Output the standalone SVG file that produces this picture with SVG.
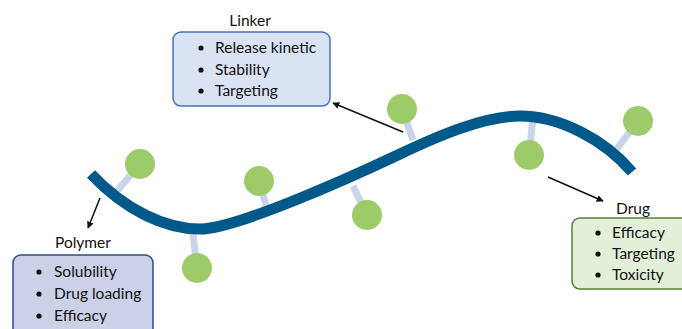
<svg xmlns="http://www.w3.org/2000/svg" width="682" height="329" viewBox="0 0 682 329">
  <defs>
    <marker id="head" viewBox="0 0 10 10" refX="9" refY="5" markerWidth="7" markerHeight="7" orient="auto" markerUnits="userSpaceOnUse">
      <path d="M0,0 L10,5 L0,10 z" fill="#111"/>
    </marker>
    <style>
      .stem { stroke: #CAD4E8; stroke-width: 7; }
      .bead { fill: #9ECB6A; }
      .chain { fill: none; stroke: #005A89; stroke-width: 11; }
      .arrow { stroke: #111; stroke-width: 1.5; fill: none; marker-end: url(#head); }
      text { font-family: Lato, "Open Sans", sans-serif; font-size: 15.5px; fill: #111; }
      .title { text-anchor: middle; }
    </style>
  </defs>

  <!-- side groups: stems + beads -->
  <g id="beads">
    <line class="stem" x1="117" y1="191" x2="140" y2="164"/>
    <line class="stem" x1="268" y1="212" x2="259" y2="181"/>
    <line class="stem" x1="353" y1="186" x2="367" y2="215"/>
    <line class="stem" x1="193" y1="234" x2="197" y2="268"/>
    <line class="stem" x1="413" y1="140" x2="402" y2="109"/>
    <line class="stem" x1="533" y1="118" x2="529" y2="155"/>
    <line class="stem" x1="616" y1="150" x2="638" y2="121"/>
    <circle class="bead" cx="140" cy="164" r="15"/>
    <circle class="bead" cx="259" cy="181" r="15"/>
    <circle class="bead" cx="367" cy="215" r="15"/>
    <circle class="bead" cx="197" cy="268" r="15"/>
    <circle class="bead" cx="402" cy="109" r="15"/>
    <circle class="bead" cx="529" cy="155" r="15"/>
    <circle class="bead" cx="638" cy="121" r="15"/>
  </g>

  <!-- polymer backbone -->
  <g id="backbone">
    <path class="chain" d="M91,174 C125,210 165,229 200,229 C235,229 345,180 400,154 C440,135 485,116 520,116 C560,116 605,140 632,172"/>
  </g>

  <g id="connectors">
    <line class="arrow" x1="100" y1="198" x2="88" y2="228"/>
    <line class="arrow" x1="403" y1="132" x2="333" y2="103"/>
    <line class="arrow" x1="548" y1="177" x2="603" y2="201"/>
  </g>

  <g id="linker">
    <text class="title" x="250" y="26">Linker</text>
    <rect x="173" y="32" width="157" height="74" rx="8" fill="#DAE3F3" stroke="#4472C4" stroke-width="1.5"/>
    <circle cx="201" cy="48" r="2.6" fill="#111"/>
    <circle cx="201" cy="70" r="2.6" fill="#111"/>
    <circle cx="201" cy="91" r="2.6" fill="#111"/>
    <text x="215" y="53">Release kinetic</text>
    <text x="215" y="75">Stability</text>
    <text x="215" y="96">Targeting</text>
  </g>

  <g id="polymer">
    <text class="title" x="83" y="248">Polymer</text>
    <rect x="13" y="255" width="140" height="84" rx="8" fill="#CBD1E7" stroke="#2F4B8C" stroke-width="1.5"/>
    <circle cx="39" cy="272" r="2.6" fill="#111"/>
    <circle cx="39" cy="294" r="2.6" fill="#111"/>
    <circle cx="39" cy="316" r="2.6" fill="#111"/>
    <text x="54" y="277">Solubility</text>
    <text x="54" y="299">Drug loading</text>
    <text x="54" y="321">Efficacy</text>
  </g>

  <g id="drug">
    <text x="616" y="214">Drug</text>
    <rect x="572" y="218" width="120" height="71" rx="8" fill="#E2F0D9" stroke="#548235" stroke-width="1.5"/>
    <circle cx="598" cy="233" r="2.6" fill="#111"/>
    <circle cx="598" cy="254" r="2.6" fill="#111"/>
    <circle cx="598" cy="275" r="2.6" fill="#111"/>
    <text x="612" y="238">Efficacy</text>
    <text x="612" y="259">Targeting</text>
    <text x="612" y="280">Toxicity</text>
  </g>
</svg>
